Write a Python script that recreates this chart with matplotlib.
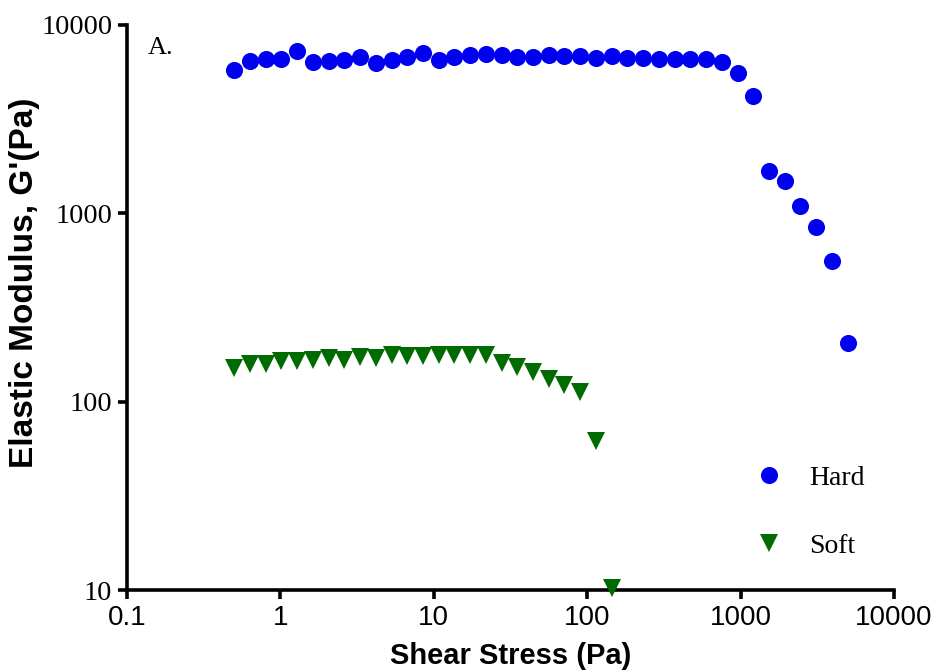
import matplotlib
matplotlib.use("Agg")
import matplotlib.pyplot as plt
from matplotlib.ticker import FixedLocator, FixedFormatter, NullLocator

# ---- data ----
shear_stress = [0.5, 0.633, 0.802, 1.015, 1.285, 1.628, 2.061, 2.61, 3.305, 4.185,
                5.30, 6.71, 8.50, 10.76, 13.63, 17.26, 21.85, 27.67, 35.04, 44.37,
                56.2, 71.1, 90.1, 114.1, 144.5, 182.9, 231.6, 293.3, 371.4, 470.3,
                595.6, 754.2, 955.0, 1209, 1531, 1939, 2456, 3110, 3938, 4987]
hard_G = [5770, 6460, 6580, 6580, 7280, 6380, 6460, 6520, 6800, 6310,
          6520, 6800, 7130, 6520, 6800, 6930, 7020, 6930, 6800, 6800,
          6930, 6840, 6840, 6650, 6840, 6650, 6650, 6580, 6580, 6580,
          6580, 6340, 5580, 4200, 1683, 1490, 1097, 849, 560, 204]
soft_stress = shear_stress[:25]
soft_G = [151, 159, 159, 165, 165, 167, 170, 167, 173, 170,
          176, 175, 175, 176, 178, 176, 177, 161, 152, 144,
          132, 123, 112.5, 62, 10.3]

x_ticks = [0.1, 1, 10, 100, 1000, 10000]
x_ticklabels = ["0.1", "1", "10", "100", "1000", "10000"]
y_ticks = [10, 100, 1000, 10000]
y_ticklabels = ["10", "100", "1000", "10000"]
series_labels = ["Hard", "Soft"]

SERIF = ["Liberation Serif", "DejaVu Serif"]
SANS = ["Liberation Sans", "DejaVu Sans"]

fig = plt.figure(figsize=(9.4, 6.71), dpi=100)
ax = fig.add_axes([127/940, 1-590/671, (894-127)/940, (590-25)/671])

ax.plot(shear_stress, hard_G, linestyle="none", marker="o", markersize=12.3,
        color="#0000F0", markeredgewidth=0, label=series_labels[0], clip_on=False, zorder=3)
ax.plot(soft_stress, soft_G, linestyle="none", marker="v", markersize=12.5,
        color="#006B00", markeredgewidth=0, label=series_labels[1], clip_on=False, zorder=3)

ax.set_xscale("log")
ax.set_yscale("log")
ax.set_xlim(0.1, 10000)
ax.set_ylim(10, 10000)

ax.xaxis.set_major_locator(FixedLocator(x_ticks))
ax.xaxis.set_major_formatter(FixedFormatter(x_ticklabels))
ax.xaxis.set_minor_locator(NullLocator())
ax.yaxis.set_major_locator(FixedLocator(y_ticks))
ax.yaxis.set_major_formatter(FixedFormatter(y_ticklabels))
ax.yaxis.set_minor_locator(NullLocator())

for s in ["top", "right"]:
    ax.spines[s].set_visible(False)
for s in ["left", "bottom"]:
    ax.spines[s].set_linewidth(2.6)
    ax.spines[s].set_color("black")

ax.tick_params(axis="both", which="major", length=6.5, width=2.6, direction="out", color="black")
ax.tick_params(axis="x", pad=4)
ax.tick_params(axis="y", pad=4)
for lab in ax.get_xticklabels():
    lab.set_fontfamily(SANS)
    lab.set_fontsize(20)
for lab in ax.get_yticklabels():
    lab.set_fontfamily(SERIF)
    lab.set_fontsize(20.5)

ax.set_xlabel("Shear Stress (Pa)", fontfamily=SANS, fontweight="bold", fontsize=21, labelpad=8)
ax.set_ylabel("Elastic Modulus, G'(Pa)", fontfamily=SANS, fontweight="bold", fontsize=24)
ax.yaxis.set_label_coords((40-127)/767, (590-283)/565)

ax.text(148/767-127/767+0.0, 0.948, "A.", transform=ax.transAxes, fontfamily=SERIF,
        fontsize=19, va="baseline", ha="left")

leg = ax.legend(loc="center left", bbox_to_anchor=((744-127)/767, (590-512)/565), frameon=False,
                prop={"family": SERIF, "size": 20}, labelspacing=1.53, handletextpad=0.95,
                borderaxespad=0, handlelength=1.0)

fig.savefig("out.png", dpi=100)
